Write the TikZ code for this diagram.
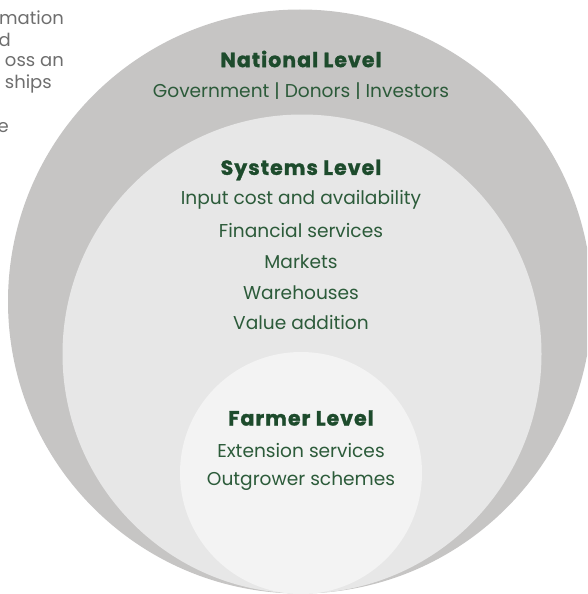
\documentclass[tikz,border=0pt]{standalone}
\usepackage{fontspec}
\setmainfont{Poppins}
\definecolor{outerc}{HTML}{C6C5C4}
\definecolor{midc}{HTML}{E7E7E7}
\definecolor{innerc}{HTML}{F3F3F3}
\definecolor{titlec}{HTML}{1D4B2C}
\definecolor{bodyc}{HTML}{2C5B3A}
\definecolor{sidec}{HTML}{6E6E6E}
\begin{document}
\begin{tikzpicture}[x=1pt,y=-1pt,
  lvltitle/.style={font=\fontsize{20.5}{23}\selectfont\bfseries\addfontfeatures{FakeBold=1.3,LetterSpace=5}, text=titlec, inner sep=0pt},
  item/.style={font=\fontsize{18.6}{21}\selectfont, text=bodyc, inner sep=0pt},
  side/.style={font=\fontsize{18}{21}\selectfont, text=sidec, inner sep=0pt, anchor=east}]
\useasboundingbox (0,0) rectangle (587,594);
\begin{scope}
\clip (0,0) rectangle (587,594);
\fill[outerc] (300,301.5) circle[radius=292];
\fill[midc] (302,354) circle[radius=239.5];
\fill[innerc] (301,473) circle[radius=121];
\node[side] (s1) at (64,18) {mation};
\node[side] (s2) at (11,40) {d};
\node[side] (s3) at (64,62) {oss an};
\node[side] (s4) at (52,84) {ships};
\node[side] (s5) at (9,128) {e};
\end{scope}
\node[lvltitle] (nat) at (301,59) {National Level};
\node[item] (natit) at (301,91) {Government | Donors | Investors};
\node[lvltitle] (sys) at (301,170) {Systems Level};
\node[item] (sys1) at (301,200) {Input cost and availability};
\node[item] (sys2) at (301,231) {Financial services};
\node[item] (sys3) at (301,262) {Markets};
\node[item] (sys4) at (301,293) {Warehouses};
\node[item] (sys5) at (301,323) {Value addition};
\node[lvltitle] (far) at (301,418) {Farmer Level};
\node[item] (far1) at (301,451) {Extension services};
\node[item] (far2) at (301,481) {Outgrower schemes};
\end{tikzpicture}
\end{document}
